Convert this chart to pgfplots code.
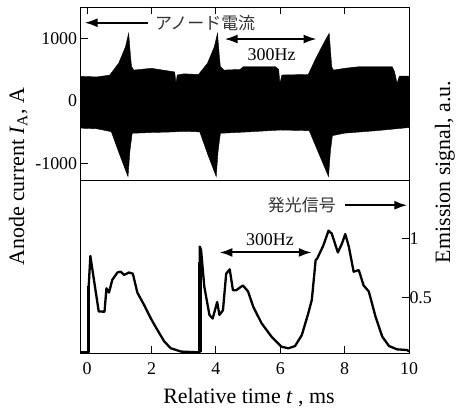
\documentclass[border=0pt]{standalone}
\usepackage{fontspec}
\setmainfont{Liberation Serif}
\newfontfamily\cjk{Noto Sans CJK JP}
\usepackage{pgfplots}
\pgfplotsset{compat=1.18}
\usetikzlibrary{arrows.meta}

\tikzset{
  arr/.style={line width=2bp, -{Latex[length=13bp,width=9bp]}},
  darr/.style={line width=2bp, {Latex[length=13bp,width=9bp]}-{Latex[length=13bp,width=9bp]}},
}

\begin{document}
\begin{tikzpicture}[font=\rmfamily\fontsize{18}{21}\selectfont]
\path[use as bounding box] (-80.7bp,-59bp) rectangle (379.3bp,353bp);
\pgfplotsset{
  every axis/.append style={
    scale only axis, width=328.3bp, height=173bp,
    xmin=-0.2, xmax=10,
    tick align=inside, major tick length=7bp,
    axis line style={line width=0.8pt},
    every tick/.style={black, line width=0.8pt},
    /pgf/number format/assume math mode=true,
    /pgf/number format/1000 sep={},
    tick label style={font=\rmfamily\fontsize{18}{21}\selectfont},
    clip=false,
  },
}

% upper panel: anode current (envelope of the fast oscillation)
\begin{axis}[
  at={(0,173bp)}, anchor=south west,
  ymin=-1270, ymax=1500,
  xtick={0,2,...,10}, xtick pos=right, xticklabels={},
  ytick={-1000,0,1000}, ytick pos=left,
]
\addplot[fill=black, draw=black, line width=0.4pt] coordinates {
  (-0.2,390) (0.3,380) (0.7,410) (0.98,600) (1.19,860) (1.29,1080)
  (1.35,700) (1.38,544) (1.45,490) (2.0,518) (2.6,470) (2.72,460)
  (2.76,280) (2.8,411) (3.0,430) (3.46,420) (3.74,600) (3.95,860)
  (4.05,1080) (4.11,700) (4.14,544) (4.25,490) (4.75,500) (4.85,544)
  (5.85,544) (5.95,500) (5.99,278) (6.05,411) (6.87,420) (7.08,650)
  (7.29,864) (7.52,1080) (7.6,544) (7.65,490) (8.0,518) (8.45,544)
  (9.48,544) (9.55,464) (9.63,278) (9.7,395) (10.0,395)
  (10.0,-430) (9.0,-480) (8.0,-520) (7.62,-560) (7.56,-800) (7.5,-1216)
  (7.2,-850) (6.9,-480) (6.0,-470) (5.0,-500) (4.14,-522) (4.07,-800)
  (4.01,-1216) (3.74,-850) (3.5,-500) (3.0,-490) (2.7,-500) (2.0,-510)
  (1.40,-522) (1.33,-800) (1.27,-1216) (1.0,-850) (0.75,-496)
  (0.3,-450) (-0.2,-440)
};
\draw[arr] (axis cs:1.88,1248) -- (axis cs:-0.08,1248);
\node[anchor=west, black!80, font=\cjk\fontsize{17}{20}\selectfont] at (axis cs:2.0,1248) {アノード電流};
\draw[darr] (axis cs:4.27,987) -- (axis cs:7.13,987);
\node at (axis cs:5.73,731) {300Hz};
\end{axis}

% lower panel: emission signal
\begin{axis}[
  at={(0,0)}, anchor=south west,
  ymin=0.028, ymax=1.494,
  xtick={0,2,...,10}, xtick pos=left,
  xticklabel style={yshift=-6bp},
  ytick={0.5,1}, ytick pos=right, yticklabel pos=right,
  yticklabel style={xshift=-3bp},
]
\addplot[black, line width=2.3bp, line join=round] coordinates {
  (-0.2,0.034) (0.05,0.034) (0.05,0.60) (0.10,0.85) (0.26,0.56)
  (0.36,0.38) (0.54,0.378) (0.60,0.576) (0.68,0.54) (0.78,0.647)
  (0.94,0.71) (1.04,0.717) (1.15,0.69) (1.30,0.71) (1.42,0.70)
  (1.56,0.54) (1.77,0.435) (1.98,0.32) (2.19,0.22) (2.40,0.124)
  (2.60,0.068) (2.92,0.04) (3.48,0.034) (3.50,0.034) (3.50,0.93)
  (3.54,0.90) (3.64,0.59) (3.80,0.35) (3.90,0.32) (4.04,0.46)
  (4.11,0.35) (4.22,0.39) (4.32,0.70) (4.43,0.737) (4.53,0.56)
  (4.63,0.56) (4.84,0.60) (5.0,0.55) (5.16,0.42) (5.42,0.28)
  (5.73,0.166) (6.04,0.081) (6.25,0.068) (6.46,0.087) (6.67,0.18)
  (6.87,0.364) (6.98,0.477) (7.10,0.816) (7.15,0.83) (7.34,0.94)
  (7.5,1.065) (7.6,1.04) (7.79,0.88) (7.92,0.957) (8.02,1.036)
  (8.13,0.93) (8.28,0.717) (8.44,0.73) (8.59,0.60) (8.75,0.55)
  (8.96,0.336) (9.17,0.166) (9.38,0.087) (9.63,0.059) (9.95,0.053)
  (10.0,0.04)
};
% the steep rises at the pulse starts look heavier
\addplot[black, line width=3.5bp] coordinates {(0.05,0.034) (0.05,0.60)};
\addplot[black, line width=3.5bp] coordinates {(3.50,0.034) (3.50,0.80)};
\node[black!80, font=\cjk\fontsize{17}{20}\selectfont] at (axis cs:6.67,1.28) {発光信号};
\draw[arr] (axis cs:8.02,1.28) -- (axis cs:9.95,1.28);
\draw[darr] (axis cs:4.11,0.88) -- (axis cs:6.98,0.88);
\node at (axis cs:5.68,0.99) {300Hz};
\end{axis}

\node[rotate=90, font=\rmfamily\fontsize{22}{26}\selectfont] at (-62.4bp,176.3bp) {Anode current \textit{I}\textsubscript{A}, A};
\node[rotate=90, font=\rmfamily\fontsize{22}{26}\selectfont] at (364.3bp,181bp) {Emission signal, a.u.};
\node[font=\rmfamily\fontsize{22}{26}\selectfont] at (168.3bp,-44.5bp) {Relative time \textit{t} , ms};
\end{tikzpicture}
\end{document}
